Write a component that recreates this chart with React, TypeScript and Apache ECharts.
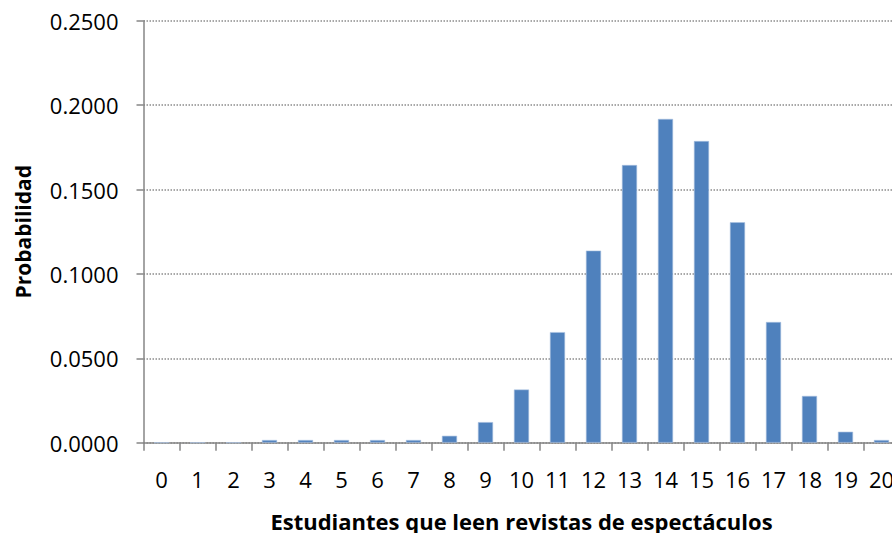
import React, { useEffect, useRef } from "react";
import * as echarts from "echarts";

const categories: string[] = [
  "0", "1", "2", "3", "4", "5", "6", "7", "8", "9", "10",
  "11", "12", "13", "14", "15", "16", "17", "18", "19", "20",
];
const probabilities: number[] = [
  0, 0, 0, 0.0016, 0.0016, 0.0016, 0.0016, 0.0016, 0.0041, 0.0122, 0.0315,
  0.0655, 0.1138, 0.1645, 0.1918, 0.1787, 0.1306, 0.0715, 0.0277, 0.0065, 0.0016,
];
const yTicks = { min: 0, max: 0.25, interval: 0.05 };
const xTitle = "Estudiantes que leen revistas de espectáculos";
const yTitle = "Probabilidad";

const FONT = "'Open Sans', 'Liberation Sans', sans-serif";

export default function App() {
  const ref = useRef<HTMLDivElement>(null);
  useEffect(() => {
    if (!ref.current) return;
    const chart = echarts.init(ref.current, undefined, { renderer: "svg" });
    chart.setOption({
      animation: false,
      backgroundColor: "#ffffff",
      grid: {
        left: 143.5,
        right: 0.5,
        top: 20.7,
        bottom: 90.3,
        containLabel: false,
        outerBoundsMode: "none",
      },
      xAxis: {
        type: "category",
        data: categories,
        boundaryGap: true,
        axisLine: { lineStyle: { color: "#868686", width: 1.5 } },
        axisTick: { show: true, length: 8, alignWithLabel: false, lineStyle: { color: "#868686", width: 1.5 } },
        axisLabel: { color: "#000", fontSize: 22, fontFamily: FONT, margin: 25, interval: 0 },
        name: xTitle,
        nameLocation: "middle",
        nameGap: 67,
        nameTextStyle: { color: "#000", fontSize: 22, lineHeight: 22, fontWeight: "bold", fontFamily: FONT },
      },
      yAxis: {
        type: "value",
        min: yTicks.min,
        max: yTicks.max,
        interval: yTicks.interval,
        axisLine: { show: true, lineStyle: { color: "#868686", width: 1.5 } },
        axisTick: { show: true, length: 7, lineStyle: { color: "#868686", width: 1.5 } },
        axisLabel: {
          color: "#000",
          fontSize: 22,
          fontFamily: FONT,
          margin: 25,
          formatter: (v: number) => v.toFixed(4),
        },
        splitLine: { show: true, lineStyle: { color: "#8c8c8c", width: 1.5, type: [1.5, 1.5] } },
        name: yTitle,
        nameLocation: "middle",
        nameGap: 110,
        nameTextStyle: { color: "#000", fontSize: 21, fontWeight: "bold", fontFamily: FONT },
      },
      series: [
        {
          type: "bar",
          data: probabilities,
          barWidth: "42%",
          itemStyle: { color: "#4F81BD", borderColor: "#A9C1E0", borderWidth: 0.6 },
        },
      ],
    });
    return () => chart.dispose();
  }, []);
  return (
    <div
      style={{
        position: "fixed",
        left: 0,
        top: 0,
        width: 892,
        height: 533,
        overflow: "hidden",
        background: "#fff",
      }}
    >
      <div ref={ref} style={{ width: 900, height: 533 }} />
    </div>
  );
}
